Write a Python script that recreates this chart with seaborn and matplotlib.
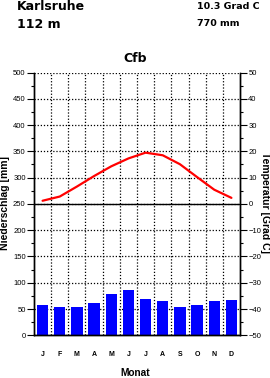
import numpy as np
import pandas as pd
import matplotlib
matplotlib.use("Agg")
import matplotlib.pyplot as plt
import seaborn as sns

months = ["Jan", "Feb", "Mar", "Apr", "May", "Jun", "Jul", "Aug", "Sep", "Oct", "Nov", "Dec"]
month_labels = ["J", "F", "M", "A", "M", "J", "J", "A", "S", "O", "N", "D"]
precip = [58, 54, 54, 61, 79, 86, 69, 65, 54, 58, 65, 67]
temps = [1.2, 2.8, 6.6, 10.6, 14.3, 17.3, 19.5, 18.5, 15.1, 10.2, 5.4, 2.3]
station = "Karlsruhe"
elevation = "112 m"
mean_temp = "10.3 Grad C"
annual_precip = "770 mm"
climate = "Cfb"

sns.set_style("white")
plt.rcParams["font.family"] = ["Liberation Sans", "DejaVu Sans"]
plt.rcParams["text.color"] = "black"
plt.rcParams["axes.labelcolor"] = "black"
plt.rcParams["xtick.color"] = "black"
plt.rcParams["ytick.color"] = "black"
HEAD = ["DejaVu Sans", "Liberation Sans"]

df = pd.DataFrame({"month": months, "precip": precip, "temp": temps,
                   "pos": np.arange(len(months))})

W, H = 270, 378
fig = plt.figure(figsize=(W / 100, H / 100), dpi=100)
ax = fig.add_axes([34 / W, 1 - 335.3 / H, (240 - 34) / W, (335.3 - 72.5) / H])

sns.barplot(data=df, x="month", y="precip", ax=ax, color="#0000ff",
            saturation=1, width=0.66, edgecolor="none")
ax.set_xlim(-0.5, len(months) - 0.5)
ax.set_ylim(0, 500)
ax.set_axisbelow(True)

ax.set_yticks(np.arange(0, 501, 50))
ax.set_yticks(np.arange(0, 501, 25), minor=True)
ax.set_xticks(np.arange(len(months)))
ax.set_xticklabels(month_labels, fontsize=5, fontweight="bold")
ax.set_xticks(np.arange(0.5, len(months) - 1, 1), minor=True)
ax.tick_params(axis="x", which="both", length=0, pad=11)
ax.tick_params(axis="y", which="major", length=5, width=0.8, labelsize=5.5, pad=1, left=True, direction="out")
ax.tick_params(axis="y", which="minor", length=2.5, width=0.8, left=True, direction="out")
ax.grid(axis="x", which="minor", linestyle=(0, (1, 1.5)), color="black", linewidth=0.9)
ax.grid(axis="y", which="major", linestyle=(0, (1, 1.5)), color="black", linewidth=0.9)
ax.grid(axis="x", which="major", visible=False)
ax.axhline(250, color="black", linewidth=1.0, zorder=1)
ax.set_xlabel("Monat", fontsize=7.3, fontweight="bold", va="center")
ax.xaxis.set_label_coords(0.4925, (335.3 - 372.5) / 262.8)
ax.set_ylabel("Niederschlag [mm]", fontsize=7.5, fontweight="bold", va="center")
ax.yaxis.set_label_coords((5 - 34) / 206, (335.3 - 203) / 262.8)

ax2 = ax.twinx()
sns.lineplot(data=df, x="pos", y="temp", ax=ax2, color="#ff0000", linewidth=1.6)
ax2.set_ylim(-50, 50)
ax2.set_xlim(-0.5, len(months) - 0.5)
ax2.set_yticks(np.arange(-50, 51, 10))
ax2.set_yticks(np.arange(-50, 51, 5), minor=True)
ax2.tick_params(axis="y", which="major", length=5, width=0.8, labelsize=5.5, pad=1, right=True, direction="out")
ax2.tick_params(axis="y", which="minor", length=2.5, width=0.8, right=True, direction="out")
ax2.set_ylabel("Temperatur [Grad C]", fontsize=7.5, fontweight="bold", rotation=-90, va="center")
ax2.yaxis.set_label_coords((265 - 34) / 206, (335.3 - 203) / 262.8)
ax2.set_xlabel("")

for a in (ax, ax2):
    a.spines["top"].set_visible(False)
    for s in ("left", "right", "bottom"):
        a.spines[s].set_color("black")
        a.spines[s].set_linewidth(1.0)

fig.text(17 / W, 1 - 10.2 / H, station, fontsize=9, fontweight="bold", family=HEAD, va="baseline", ha="left")
fig.text(17 / W, 1 - 28.2 / H, elevation, fontsize=9, fontweight="bold", family=HEAD, va="baseline", ha="left")
fig.text(197 / W, 1 - 8.8 / H, mean_temp, fontsize=6.8, fontweight="bold", family=HEAD, va="baseline", ha="left")
fig.text(197 / W, 1 - 26 / H, annual_precip, fontsize=6.8, fontweight="bold", family=HEAD, va="baseline", ha="left")
fig.text(135 / W, 1 - 61.7 / H, climate, fontsize=9, fontweight="bold", family=HEAD, va="baseline", ha="center")

fig.savefig("out.png", dpi=100)
